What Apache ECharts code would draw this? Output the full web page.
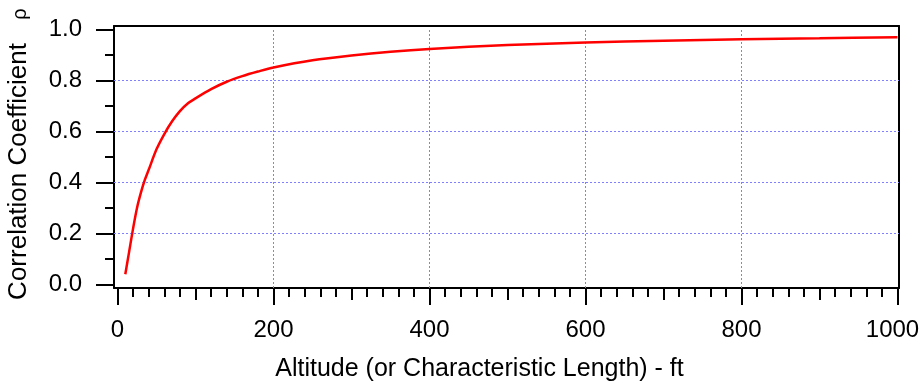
<!DOCTYPE html>
<html>
<head>
<meta charset="utf-8">
<script src="https://cdn.jsdelivr.net/npm/echarts@6/dist/echarts.min.js"></script>
<style>
  html, body { margin: 0; padding: 0; background: #fff; }
  #chart { width: 922px; height: 383px; }
</style>
</head>
<body>
<div id="chart"></div>
<script>
// Altitude (ft) and the correlation coefficient rho at that altitude
const altitude = [10, 15, 20, 25, 30, 35, 40, 50, 60, 70, 80, 90, 100, 120, 140, 160, 180, 200, 250, 300, 350, 400, 500, 600, 700, 800, 900, 1000];
const rho = [0.04, 0.13, 0.22, 0.30, 0.36, 0.41, 0.45, 0.53, 0.59, 0.64, 0.68, 0.71, 0.73, 0.766, 0.795, 0.817, 0.835, 0.851, 0.879, 0.898, 0.913, 0.924, 0.939, 0.949, 0.956, 0.962, 0.966, 0.97];

// Tick positions
const xMajorTicks = [0, 200, 400, 600, 800, 1000];
const xMidTicks = [0, 100, 200, 300, 400, 500, 600, 700, 800, 900, 1000];
const xMinorTicks = [0, 20, 40, 60, 80, 100, 120, 140, 160, 180, 200, 220, 240, 260, 280, 300, 320, 340, 360, 380, 400,
  420, 440, 460, 480, 500, 520, 540, 560, 580, 600, 620, 640, 660, 680, 700, 720, 740, 760, 780, 800,
  820, 840, 860, 880, 900, 920, 940, 960, 980, 1000];
const yMajorTicks = [0, 0.2, 0.4, 0.6, 0.8, 1.0];
const yMinorTicks = [0, 0.1, 0.2, 0.3, 0.4, 0.5, 0.6, 0.7, 0.8, 0.9, 1.0];
const xGridValues = [200, 400, 600, 800];
const yGridValues = [0.2, 0.4, 0.6, 0.8];

// Axis extents leave a small margin between the data range and the frame
const X_MIN = -4.48718, X_MAX = 1001.92308;
const Y_MIN = -0.0137255, Y_MAX = 1.0137255;

const FONT = 'Liberation Sans, Arial, sans-serif';
const GRID_BLUE = '#8080ff';
const chart = echarts.init(document.getElementById('chart'), null, { renderer: 'canvas' });

function tickAxis(pos, ticks, len, extra) {
  const horiz = pos === 'bottom' || pos === 'top';
  return Object.assign({
    type: 'value', position: pos, gridIndex: 0,
    min: horiz ? X_MIN : Y_MIN,
    max: horiz ? X_MAX : Y_MAX,
    axisLine: { show: false, onZero: false },
    axisTick: { show: true, inside: false, length: len, customValues: ticks, lineStyle: { color: '#000', width: 2 } },
    axisLabel: { show: false },
    splitLine: { show: false }
  }, extra || {});
}

const frameLine = { show: true, onZero: false, lineStyle: { color: '#000', width: 2 } };

// Dotted reference lines: verticals run from the bottom frame up to rho = 1,
// horizontals span the whole frame width
const gridLines = xGridValues.map(v => [{ coord: [v, Y_MIN] }, { coord: [v, 1] }])
  .concat(yGridValues.map(v => [{ coord: [X_MIN, v] }, { coord: [X_MAX, v] }]));

const option = {
  animation: false,
  backgroundColor: '#fff',
  grid: { left: 114, right: 23, top: 26, bottom: 95, containLabel: false, outerBoundsMode: 'none' },
  xAxis: [
    tickAxis('bottom', xMajorTicks, 17, {
      axisLine: frameLine,
      axisLabel: {
        show: true, customValues: xMajorTicks, margin: 30,
        color: '#000', fontSize: 24, fontFamily: FONT,
        // the last label is nudged inwards so it stays within the page
        formatter: v => (v >= 1000 ? '{last|' + Math.round(v) + '}' : String(Math.round(v))),
        rich: { last: { fontSize: 24, fontFamily: FONT, color: '#000', padding: [0, 10, 0, 0] } }
      },
      name: 'Altitude (or Characteristic Length) - ft',
      nameLocation: 'middle', nameGap: 69,
      nameTextStyle: { color: '#000', fontSize: 25, fontFamily: FONT, padding: [0, 54, 0, 0] }
    }),
    tickAxis('bottom', xMidTicks, 12),
    tickAxis('bottom', xMinorTicks, 9),
    tickAxis('top', [], 0, { axisLine: frameLine, axisTick: { show: false } })
  ],
  yAxis: [
    tickAxis('left', yMajorTicks, 18, {
      axisLine: frameLine,
      axisLabel: {
        show: true, customValues: yMajorTicks, margin: 32,
        color: '#000', fontSize: 24, fontFamily: FONT,
        formatter: v => v.toFixed(1)
      },
      name: 'Correlation Coefficient',
      nameLocation: 'middle', nameGap: 82, nameRotate: 90,
      nameTextStyle: { color: '#000', fontSize: 26, fontFamily: FONT, padding: [0, 29, 0, 0] }
    }),
    tickAxis('left', yMinorTicks, 9),
    tickAxis('right', [], 0, { axisLine: frameLine, axisTick: { show: false } })
  ],
  graphic: [{
    type: 'text',
    x: 20, y: 14,
    rotation: Math.PI / 2,
    style: { text: '\u03c1', fill: '#000', font: '20px ' + FONT, align: 'center', verticalAlign: 'middle' }
  }],
  series: [{
    type: 'line',
    xAxisIndex: 0, yAxisIndex: 0,
    data: altitude.map((a, i) => [a, rho[i]]),
    smooth: 0.3,
    showSymbol: false,
    lineStyle: { color: '#ff0000', width: 2.5 },
    z: 5,
    markLine: {
      silent: true, symbol: 'none', animation: false,
      label: { show: false },
      lineStyle: { color: GRID_BLUE, width: 1, type: [2, 2] },
      data: gridLines
    }
  }]
};

chart.setOption(option);
</script>
</body>
</html>
